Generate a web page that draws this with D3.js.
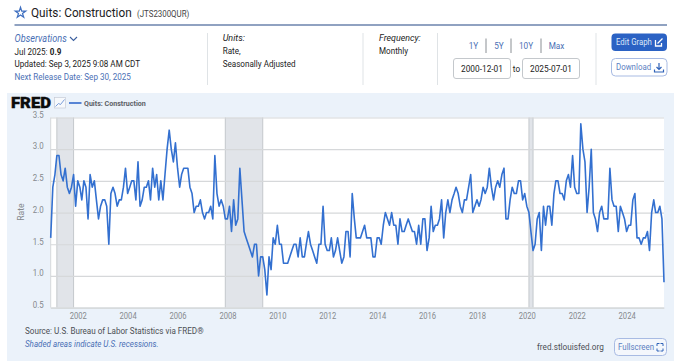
<!DOCTYPE html>
<html><head><meta charset="utf-8">
<script src="https://cdn.jsdelivr.net/npm/d3@7/dist/d3.min.js"></script>
<style>
html,body{margin:0;padding:0;background:#fff;overflow:hidden}
svg{display:block;font-family:Roboto,sans-serif}
</style></head><body><svg id="c" width="680" height="362"></svg>
<script>
const seriesTitle = "Quits: Construction";
const seriesId = "(JTS2300QUR)";
const startMonth = "2000-12-01", endMonth = "2025-07-01";
const quitsRate = [
1.6,
2.4,2.6,2.9,2.9,2.6,2.5,2.7,2.4,2.3,2.4,2.6,2.1,
2.5,2.4,2.2,2.5,2.4,1.9,2.6,2.4,2.5,2.2,1.9,2.1,
2.2,2.2,2.1,1.5,2.3,2.4,2.3,2.1,2.2,2.2,2.4,2.7,
2.3,2.4,2.5,2.5,2.2,2.8,2.1,2.2,2.4,2.4,2.5,2.2,
2.7,2.4,2.6,2.2,2.5,2.2,2.6,3.0,3.3,3.0,2.8,3.1,
2.7,2.4,2.6,2.7,2.7,2.7,2.4,2.3,2.0,2.1,2.1,2.2,
2.0,1.9,2.0,2.0,2.1,1.9,2.9,2.3,2.1,2.2,2.1,1.9,
1.9,2.1,1.7,2.2,1.8,1.9,2.7,2.2,1.7,1.6,1.5,1.4,
1.3,1.5,1.5,1.0,1.3,1.3,1.1,0.7,1.3,1.1,1.6,1.5,
1.8,1.5,1.5,1.2,1.2,1.2,1.3,1.4,1.5,1.5,1.3,1.6,
1.3,1.3,1.5,1.7,1.5,1.4,1.3,1.2,1.5,1.5,2.1,1.5,
1.4,1.4,1.6,1.3,1.4,1.6,1.4,1.2,1.3,1.7,1.7,1.3,
2.3,1.9,1.6,1.6,1.6,1.7,1.8,1.6,1.6,1.6,1.3,1.3,
1.6,1.6,1.5,1.8,2.0,1.9,1.8,2.0,1.8,1.8,1.5,1.9,
1.7,1.7,1.8,1.9,1.8,1.7,1.7,1.5,1.8,1.5,1.9,1.9,
1.4,1.6,2.1,1.7,1.8,1.8,1.9,2.2,1.6,2.0,2.2,2.0,
2.2,2.3,2.4,2.3,2.1,2.0,2.2,2.2,2.4,2.6,2.0,2.1,
2.2,2.1,2.2,2.4,2.3,2.4,2.7,2.4,2.2,2.4,2.5,2.4,
2.6,2.7,1.9,1.9,2.2,2.4,2.3,2.3,2.5,2.5,2.2,2.3,
2.1,2.0,1.7,1.4,1.5,1.9,2.0,1.4,2.1,1.8,2.1,2.1,
1.8,2.3,2.5,2.5,2.3,2.3,2.2,2.5,2.6,2.4,2.9,2.4,
2.3,2.3,3.4,3.0,2.8,2.0,2.4,3.0,2.0,1.9,1.7,2.0,
2.1,1.9,1.9,1.9,2.7,2.2,2.1,2.1,1.7,2.1,2.0,1.9,
1.7,1.8,1.8,2.2,2.3,1.6,1.6,1.5,1.6,1.6,1.7,1.4,
2.0,2.2,2.0,2.0,2.1,1.9,0.9
];
const recessions = [["2001-03-01","2001-11-01"],["2007-12-01","2009-06-01"],["2020-02-01","2020-04-01"]];
const yTicks = [0.5,1.0,1.5,2.0,2.5,3.0,3.5];
const xTickYears = [2002,2004,2006,2008,2010,2012,2014,2016,2018,2020,2022,2024];
const rangeLinks = ["1Y","5Y","10Y","Max"];

const parse = d3.utcParse("%Y-%m-%d");
const months = d3.utcMonth.range(parse(startMonth), d3.utcMonth.offset(parse(endMonth),1));
const svg = d3.select("#c");
const BLUE="#4a6fb5", TXT="#222", GREY="#85898d";
function T(x,y,s,o={}){
  const t=svg.append("text").attr("x",x).attr("y",y).text(s)
    .attr("font-size",o.size||8.1).attr("fill",o.fill||TXT);
  if(o.weight)t.attr("font-weight",o.weight);
  if(o.style)t.attr("font-style",o.style);
  if(o.anchor)t.attr("text-anchor",o.anchor);
  return t;
}
// header
svg.append("path").attr("transform","translate(20.5,12.8)")
  .attr("d",d3.symbol(d3.symbolStar,34)()).attr("fill","none").attr("stroke","#3f6fc0").attr("stroke-width",1.2);
T(31,16.5,seriesTitle,{size:11.8,fill:"#1c1c1c"});
T(137,16.5,seriesId,{size:7.9,fill:"#444"});
svg.append("line").attr("x1",14.5).attr("x2",667).attr("y1",25).attr("y2",25).attr("stroke","#6b83ad").attr("stroke-width",1.4);
T(14.5,41.5,"Observations",{size:9.2,fill:BLUE,style:"italic"});
svg.append("path").attr("d","M70,37 l3.5,3.5 l3.5,-3.5").attr("fill","none").attr("stroke","#3b5f9e").attr("stroke-width",1.1);
T(14.5,54.5,"Jul 2025:");
T(49.8,54.5,"0.9",{weight:700});
T(14.5,67,"Updated: Sep 3, 2025 9:08 AM CDT");
T(14.5,79.5,"Next Release Date: Sep 30, 2025",{fill:BLUE});
[207.5,363,437.5,596].forEach(x=>svg.append("line").attr("x1",x).attr("x2",x).attr("y1",33).attr("y2",85).attr("stroke","#dfe3e6"));
T(222.7,41,"Units:",{size:9,style:"italic"});
T(222.7,54,"Rate,");
T(222.7,67,"Seasonally Adjusted");
T(379,41,"Frequency:",{size:8.9,style:"italic"});
T(379,54,"Monthly");
[473.5,499,526,556.5].forEach((x,i)=>T(x,49,rangeLinks[i],{size:8.2,fill:BLUE,anchor:"middle"}));
[486,511,541].forEach(x=>svg.append("line").attr("x1",x).attr("x2",x).attr("y1",38.5).attr("y2",53).attr("stroke","#8a8f94"));
[[453.5,startMonth],[522.5,endMonth]].forEach(([x,s])=>{
  svg.append("rect").attr("x",x).attr("y",58.5).attr("width",57).attr("height",20).attr("rx",2.5).attr("fill","#fff").attr("stroke","#c4c8cc");
  T(x+28.5,71.5,s,{size:8.3,anchor:"middle"});
});
T(516.5,71.5,"to",{size:8.2,anchor:"middle"});
svg.append("rect").attr("x",611.5).attr("y",33.5).attr("width",55.5).attr("height",17.5).attr("rx",4).attr("fill","#2b62c4");
T(616,45,"Edit Graph",{size:7.8,fill:"#dfe8f8"});
svg.append("path").attr("d","M655.5,40 v6 h6 v-3 M657.5,43.5 l5,-5").attr("fill","none").attr("stroke","#fff").attr("stroke-width",1.3);
svg.append("rect").attr("x",611.5).attr("y",58.5).attr("width",55.5).attr("height",17.5).attr("rx",4).attr("fill","#fff").attr("stroke","#a8bbe3");
T(616,70,"Download",{size:7.9,fill:"#5c7fc2"});
svg.append("path").attr("d","M654.5,69.5 v2.5 h9 v-2.5 M659,63 v6 M656.5,67 l2.5,2.5 l2.5,-2.5").attr("fill","none").attr("stroke","#2f62b8").attr("stroke-width",1.2);
// panel
svg.append("rect").attr("x",7).attr("y",93).attr("width",667).attr("height",268).attr("fill","#ebf2fa");
const fred=T(11,108.3,"FRED",{size:14.6,weight:900,fill:"#0c0c0c"}).attr("stroke","#0c0c0c").attr("stroke-width",.35).attr("class","keep");
fred.attr("textLength",40).attr("lengthAdjust","spacingAndGlyphs");
svg.append("rect").attr("x",54.5).attr("y",97.5).attr("width",11).attr("height",10.5).attr("fill","#f7f9fc").attr("stroke","#c7ccd6").attr("stroke-width",.7);
svg.append("path").attr("d","M55.5,106.5 l3,-3 l2,1 l4,-5").attr("fill","none").attr("stroke","#5a87d0").attr("stroke-width",.8);
svg.append("line").attr("x1",69).attr("x2",81.5).attr("y1",103).attr("y2",103).attr("stroke","#3268cc").attr("stroke-width",1.6);
T(84,105.5,seriesTitle,{size:7.1,weight:700,fill:"#5c6066"});
// plot
const L=50.7,R=664,Top=117.5,Bot=307.6;
const x=d3.scaleUtc().domain([parse(startMonth),parse(endMonth)]).range([L,R]);
const y=d3.scaleLinear().domain([0.5,3.5]).range([Bot,Top]);
svg.append("rect").attr("x",L).attr("y",Top).attr("width",R-L).attr("height",Bot-Top).attr("fill","#fff");
const bands=svg.append("g").selectAll("g").data(recessions).join("g");
bands.append("rect").attr("x",d=>x(parse(d[0]))).attr("width",d=>x(parse(d[1]))-x(parse(d[0]))).attr("y",Top).attr("height",Bot-Top).attr("fill","#e1e4e9");
d3.range(2).forEach(k=>bands.append("line").attr("x1",d=>x(parse(d[k]))).attr("x2",d=>x(parse(d[k]))).attr("y1",Top).attr("y2",Bot).attr("stroke","#c4c8cc").attr("stroke-width",1));
const yAxis=svg.append("g").attr("transform",`translate(${L},0)`)
  .call(d3.axisLeft(y).tickValues(yTicks).tickFormat(d3.format(".1f")).tickSize(-(R-L)).tickPadding(7));
yAxis.select(".domain").remove();
yAxis.selectAll("line").attr("stroke","#d6d8da").attr("stroke-width",1.2);
yAxis.selectAll("text").attr("y",-3).attr("font-size",7.9).attr("font-family","Roboto,sans-serif").attr("fill",GREY);
const xAxis=svg.append("g").attr("transform",`translate(0,${Bot})`)
  .call(d3.axisBottom(x).tickValues(xTickYears.map(v=>new Date(Date.UTC(v,0,1)))).tickFormat(d3.utcFormat("%Y")).tickSize(0).tickPadding(5));
xAxis.select(".domain").attr("stroke","#d6d8da");
xAxis.selectAll("text").attr("font-size",7.6).attr("font-family","Roboto,sans-serif").attr("fill",GREY);
svg.append("line").attr("x1",L).attr("x2",L).attr("y1",Top).attr("y2",Bot).attr("stroke","#d6d8da");
svg.append("text").attr("class","keep").attr("transform",`translate(23.5,212) rotate(-90)`).attr("text-anchor","middle").attr("font-size",8.6).attr("fill",GREY).text("Rate");
const line=d3.line().x((d,i)=>x(months[i])).y(d=>y(d));
svg.append("path").datum(quitsRate).attr("d",line).attr("fill","none").attr("stroke","#3370d0").attr("stroke-width",1.6).attr("stroke-linejoin","round");
// footer
T(25,334,"Source: U.S. Bureau of Labor Statistics via FRED®",{size:8.1,fill:"#4b4f54"});
T(25,347,"Shaded areas indicate U.S. recessions.",{size:8,fill:BLUE,style:"italic"});
T(537,350,"fred.stlouisfed.org",{size:8.2,fill:"#4b4f54"});
svg.append("rect").attr("x",614.5).attr("y",338.5).attr("width",52).attr("height",17).attr("rx",4).attr("fill","#f4f7fc").attr("stroke","#a8bbe3");
T(618,350,"Fullscreen",{size:7.9,fill:"#5c7fc2"});
svg.append("path").attr("d","M657,346 v-2.5 h2.5 M660.5,343.5 h2.5 v2.5 M663,348.5 v2.5 h-2.5 M659.5,351 h-2.5 v-2.5").attr("fill","none").attr("stroke","#2f62b8").attr("stroke-width",1);
// the reference's text is horizontally condensed: keep each text's width, enlarge its height
svg.selectAll("text:not(.keep)").each(function(){
  const w=this.getComputedTextLength(), fs=+this.getAttribute("font-size");
  d3.select(this).attr("font-size",fs*1.1).attr("textLength",w).attr("lengthAdjust","spacingAndGlyphs");
});
</script></body></html>
